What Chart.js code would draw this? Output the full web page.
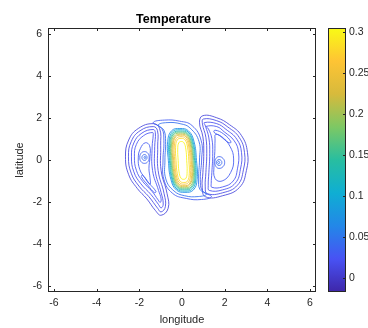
<!DOCTYPE html>
<html>
<head>
<meta charset="utf-8">
<script src="https://cdn.jsdelivr.net/npm/chart.js@4.4.1/dist/chart.umd.min.js"></script>
<style>
html, body { margin: 0; padding: 0; background: #fff; }
#wrap { position: relative; width: 368px; height: 328px; overflow: hidden; }
#mainChart { position: absolute; left: 0; top: 0; }
#cbarChart { position: absolute; left: 320px; top: 0; }
</style>
</head>
<body>
<div id="wrap">
  <canvas id="mainChart" width="368" height="328"></canvas>
  <canvas id="cbarChart" width="48" height="328"></canvas>
</div>
<script>
// axes
const xTicks = [-6, -4, -2, 0, 2, 4, 6];
const yTicks = [-6, -4, -2, 0, 2, 4, 6];
const cbarTicks = [0, 0.05, 0.1, 0.15, 0.2, 0.25, 0.3];
const cRange = [-0.017, 0.305];

// central vortex band (levels and contour lines, lon/lat)
const centralLevels = [0.30, 0.28, 0.26, 0.24, 0.22, 0.19, 0.16, 0.13, 0.10, 0.07];
const centralLines = [
  [[-0.03,0.88],[0.09,0.82],[0.18,0.52],[0.22,-0.02],[0.24,-0.56],[0.19,-0.86],[0.07,-0.92],[-0.05,-0.86],[-0.14,-0.56],[-0.18,-0.02],[-0.20,0.52],[-0.15,0.82]],
  [[-0.04,1.03],[0.14,0.96],[0.26,0.61],[0.32,-0.02],[0.34,-0.65],[0.26,-1.00],[0.08,-1.07],[-0.10,-1.00],[-0.22,-0.65],[-0.28,-0.02],[-0.30,0.61],[-0.22,0.96]],
  [[-0.05,1.11],[0.17,1.03],[0.31,0.66],[0.38,-0.02],[0.40,-0.70],[0.30,-1.07],[0.09,-1.15],[-0.13,-1.07],[-0.27,-0.70],[-0.34,-0.02],[-0.36,0.66],[-0.26,1.03]],
  [[-0.06,1.18],[0.19,1.10],[0.35,0.70],[0.43,-0.02],[0.45,-0.74],[0.34,-1.14],[0.10,-1.22],[-0.15,-1.14],[-0.31,-0.74],[-0.39,-0.02],[-0.41,0.70],[-0.30,1.10]],
  [[-0.06,1.23],[0.22,1.14],[0.39,0.73],[0.47,-0.02],[0.49,-0.77],[0.36,-1.18],[0.10,-1.27],[-0.18,-1.18],[-0.35,-0.77],[-0.43,-0.02],[-0.45,0.73],[-0.32,1.14]],
  [[-0.07,1.28],[0.23,1.19],[0.42,0.76],[0.51,-0.02],[0.53,-0.80],[0.40,-1.23],[0.11,-1.32],[-0.19,-1.23],[-0.38,-0.80],[-0.47,-0.02],[-0.49,0.76],[-0.36,1.19]],
  [[-0.08,1.33],[0.25,1.24],[0.45,0.79],[0.55,-0.02],[0.57,-0.83],[0.43,-1.28],[0.12,-1.37],[-0.21,-1.28],[-0.41,-0.83],[-0.51,-0.02],[-0.53,0.79],[-0.39,1.24]],
  [[-0.08,1.38],[0.27,1.28],[0.49,0.82],[0.59,-0.02],[0.61,-0.86],[0.46,-1.32],[0.12,-1.42],[-0.23,-1.32],[-0.45,-0.86],[-0.55,-0.02],[-0.57,0.82],[-0.42,1.28]],
  [[-0.09,1.44],[0.28,1.34],[0.52,0.86],[0.63,-0.02],[0.65,-0.90],[0.49,-1.38],[0.13,-1.48],[-0.24,-1.38],[-0.48,-0.90],[-0.59,-0.02],[-0.61,0.86],[-0.45,1.34]],
  [[-0.10,1.50],[0.30,1.39],[0.56,0.89],[0.68,-0.02],[0.71,-0.93],[0.53,-1.43],[0.14,-1.54],[-0.26,-1.43],[-0.52,-0.93],[-0.64,-0.02],[-0.67,0.89],[-0.49,1.39]]
];

// S-shaped outer band lines
const bandLevels = [0.045, 0.03];
const bandLines = [
  [[0.38,1.52],[0.80,0.87],[0.82,0.00],[0.78,-0.90],[0.84,-1.40],[1.15,-1.62],[0.76,-1.74],[0.12,-1.70],[-0.38,-1.47],[-0.76,-0.90],[-0.80,0.00],[-0.77,0.87],[-0.85,1.42],[-1.12,1.66],[-0.70,1.78],[-0.05,1.72]],
  [[0.47,1.64],[0.90,0.92],[0.92,0.00],[0.86,-0.92],[0.96,-1.47],[1.38,-1.74],[0.92,-1.88],[0.20,-1.83],[-0.45,-1.58],[-0.85,-0.92],[-0.89,0.00],[-0.85,0.92],[-0.95,1.50],[-1.35,1.78],[-0.82,1.90],[-0.12,1.85]]
];

// western eddy
const westLevels = [0.01, 0.015, 0.02, 0.025, 0.03, 0.03, 0.035, 0.04, 0.045];
const westLines = [
  [[-1.35,1.73],[-2.05,1.50],[-2.50,0.95],[-2.65,0.15],[-2.50,-0.70],[-2.10,-1.35],[-1.65,-1.85],[-1.25,-2.40],[-0.98,-2.63],[-0.65,-2.30],[-0.70,-1.60],[-0.98,-0.50],[-1.00,0.70],[-1.05,1.50]],
  [[-1.35,1.59],[-1.97,1.39],[-2.38,0.88],[-2.51,0.15],[-2.38,-0.63],[-2.02,-1.24],[-1.55,-1.75],[-1.14,-2.30],[-0.98,-2.47],[-0.78,-2.22],[-0.84,-1.60],[-1.12,-0.50],[-1.14,0.67],[-1.15,1.40]],
  [[-1.35,1.45],[-1.88,1.28],[-2.26,0.81],[-2.37,0.15],[-2.26,-0.56],[-1.93,-1.13],[-1.45,-1.65],[-1.10,-2.12],[-0.98,-2.28],[-0.88,-2.10],[-0.98,-1.55],[-1.26,-0.50],[-1.28,0.64],[-1.25,1.30]],
  [[-1.38,1.31],[-1.80,1.16],[-2.14,0.74],[-2.23,0.15],[-2.14,-0.49],[-1.85,-1.01],[-1.40,-1.50],[-1.12,-1.90],[-1.02,-2.02],[-0.98,-1.85],[-1.10,-1.45],[-1.38,-0.50],[-1.40,0.62],[-1.35,1.20]],
  [[-1.50,-1.15],[-1.74,-0.85],[-1.98,-0.45],[-2.05,0.10],[-1.95,0.55],[-1.72,0.82],[-1.52,0.68],[-1.50,0.16],[-1.55,-0.40],[-1.50,-0.85]],
  [[-1.90,-0.80],[-1.60,-1.20],[-1.30,-1.55],[-1.22,-1.50],[-1.55,-1.10],[-1.85,-0.72]],
  [[-1.76,0.40],[-1.60,0.32],[-1.54,0.12],[-1.60,-0.08],[-1.76,-0.16],[-1.92,-0.08],[-1.98,0.12],[-1.92,0.32]],
  [[-1.76,0.26],[-1.68,0.22],[-1.64,0.12],[-1.68,0.02],[-1.76,-0.02],[-1.84,0.02],[-1.88,0.12],[-1.84,0.22]],
  [[-1.74,0.18],[-1.70,0.12],[-1.74,0.06],[-1.78,0.12]]
];

// eastern eddy
const eastLevels = [0.01, 0.015, 0.02, 0.025, 0.03, 0.03, 0.035, 0.04, 0.045];
const eastLines = [
  [[0.98,2.11],[1.63,2.01],[2.23,1.68],[2.79,1.16],[3.07,0.36],[3.02,-0.50],[2.70,-1.30],[1.91,-1.70],[1.10,-1.75],[0.95,-1.30],[0.98,-0.60],[1.02,0.30],[0.98,1.10],[0.82,1.80]],
  [[1.00,1.95],[1.63,1.87],[2.15,1.57],[2.68,1.08],[2.93,0.36],[2.88,-0.47],[2.60,-1.20],[1.91,-1.56],[1.18,-1.60],[1.09,-1.28],[1.12,-0.60],[1.16,0.30],[1.12,1.08],[0.96,1.72]],
  [[1.05,1.78],[1.63,1.73],[2.06,1.46],[2.57,0.99],[2.79,0.36],[2.74,-0.44],[2.50,-1.10],[1.91,-1.42],[1.28,-1.45],[1.23,-1.22],[1.26,-0.60],[1.30,0.30],[1.26,1.05],[1.10,1.62]],
  [[1.14,1.60],[1.63,1.59],[1.98,1.34],[2.45,0.91],[2.65,0.36],[2.60,-0.42],[2.40,-1.00],[1.91,-1.28],[1.40,-1.30],[1.37,-1.12],[1.40,-0.60],[1.44,0.30],[1.40,1.02],[1.24,1.48]],
  [[1.58,1.22],[1.90,1.05],[2.25,0.65],[2.42,0.05],[2.28,-0.60],[1.88,-1.00],[1.55,-0.88],[1.50,-0.25],[1.54,0.40],[1.55,0.95]],
  [[1.55,1.42],[1.95,1.24],[2.30,0.86],[2.20,0.82],[1.85,1.12],[1.50,1.32]],
  [[1.74,0.16],[1.92,0.08],[2.00,-0.12],[1.92,-0.32],[1.74,-0.40],[1.60,-0.32],[1.54,-0.12],[1.60,0.08]],
  [[1.74,0.02],[1.83,-0.02],[1.87,-0.12],[1.83,-0.22],[1.74,-0.26],[1.65,-0.22],[1.61,-0.12],[1.65,-0.02]],
  [[1.72,-0.06],[1.77,-0.12],[1.72,-0.18],[1.67,-0.12]]
];

const FONT = "'Liberation Sans', Arial, Helvetica, sans-serif";
const AXIS_COLOR = '#262626';

// parula-like colormap
const parulaStops = [
  [0, 62, 38, 168], [0.125, 72, 82, 244], [0.25, 35, 135, 232], [0.375, 15, 174, 211],
  [0.5, 40, 190, 160], [0.625, 125, 200, 100], [0.75, 215, 186, 60], [0.875, 254, 196, 52], [1, 249, 251, 21]
];
function parula(t) {
  t = Math.max(0, Math.min(1, t));
  for (let i = 1; i < parulaStops.length; i++) {
    const a = parulaStops[i - 1], b = parulaStops[i];
    if (t <= b[0]) {
      const f = (t - a[0]) / (b[0] - a[0]);
      const c = [1, 2, 3].map(k => Math.round(a[k] + (b[k] - a[k]) * f));
      return 'rgb(' + c.join(',') + ')';
    }
  }
  return 'rgb(249,251,21)';
}
function levelColor(v) {
  return parula((v - cRange[0]) / (cRange[1] - cRange[0]));
}

// contours are closed loops
const closedLoops = {
  id: 'closedLoops',
  afterDatasetUpdate(chart, args) {
    const line = args.meta.dataset;
    if (line) { line._loop = true; line._fullLoop = true; }
  }
};

// matlab style box with inward ticks, title over the axes
const boxTicks = {
  id: 'boxTicks',
  afterDraw(chart) {
    const { ctx, chartArea: a, scales } = chart;
    ctx.save();
    ctx.strokeStyle = AXIS_COLOR;
    ctx.lineWidth = 1;
    ctx.strokeRect(a.left + 0.5, a.top + 0.5, a.right - a.left - 1, a.bottom - a.top - 1);
    ctx.beginPath();
    xTicks.forEach(v => {
      const px = Math.round(scales.x.getPixelForValue(v)) + 0.5;
      ctx.moveTo(px, a.bottom); ctx.lineTo(px, a.bottom - 3);
      ctx.moveTo(px, a.top); ctx.lineTo(px, a.top + 3);
    });
    yTicks.forEach(v => {
      const py = Math.round(scales.y.getPixelForValue(v)) + 0.5;
      ctx.moveTo(a.left, py); ctx.lineTo(a.left + 3, py);
      ctx.moveTo(a.right, py); ctx.lineTo(a.right - 3, py);
    });
    ctx.stroke();
    ctx.fillStyle = '#000';
    ctx.font = 'bold 12.5px ' + FONT;
    ctx.textAlign = 'center';
    ctx.textBaseline = 'alphabetic';
    ctx.fillText('Temperature', 173.5, 23);
    ctx.restore();
  }
};

const allLines = [...centralLines, ...bandLines, ...westLines, ...eastLines];
const allLevels = [...centralLevels, ...bandLevels, ...westLevels, ...eastLevels];

new Chart(document.getElementById('mainChart'), {
  type: 'scatter',
  data: {
    datasets: allLines.map((pts, i) => ({
      data: pts.map(p => ({ x: p[0], y: p[1] })),
      showLine: true,
      borderColor: levelColor(allLevels[i]),
      borderWidth: 0.85,
      pointRadius: 0,
      tension: 0.45,
      fill: false
    }))
  },
  options: {
    responsive: false,
    animation: false,
    events: [],
    layout: { padding: { left: 0, right: 52, top: 28, bottom: 0 } },
    plugins: {
      legend: { display: false },
      tooltip: { enabled: false },
      title: { display: false }
    },
    scales: {
      x: {
        type: 'linear',
        min: -2 * Math.PI,
        max: 2 * Math.PI,
        afterBuildTicks: s => { s.ticks = xTicks.map(v => ({ value: v })); },
        afterFit: s => { s.height = 36; },
        grid: { display: false, drawTicks: false },
        border: { display: false },
        ticks: { color: AXIS_COLOR, font: { family: FONT, size: 10.5 }, padding: 5, maxRotation: 0, autoSkip: false, callback: v => String(v) },
        title: { display: true, text: 'longitude', color: AXIS_COLOR, font: { family: FONT, size: 11 }, padding: { top: 0, bottom: 1 } }
      },
      y: {
        type: 'linear',
        min: -2 * Math.PI,
        max: 2 * Math.PI,
        afterBuildTicks: s => { s.ticks = yTicks.map(v => ({ value: v })); },
        afterFit: s => { s.width = 48; },
        grid: { display: false, drawTicks: false },
        border: { display: false },
        ticks: { color: AXIS_COLOR, font: { family: FONT, size: 10.5 }, padding: 6, autoSkip: false, callback: v => String(v) },
        title: { display: true, text: 'latitude', color: AXIS_COLOR, font: { family: FONT, size: 11 }, padding: { top: 13, bottom: 0 } }
      }
    }
  },
  plugins: [closedLoops, boxTicks]
});

// colorbar
const cbarFrame = {
  id: 'cbarFrame',
  afterDraw(chart) {
    const { ctx, chartArea: a, scales } = chart;
    ctx.save();
    ctx.strokeStyle = AXIS_COLOR;
    ctx.lineWidth = 1;
    ctx.strokeRect(a.left + 0.5, a.top + 0.5, a.right - a.left - 1, a.bottom - a.top - 1);
    ctx.beginPath();
    cbarTicks.forEach(v => {
      const py = Math.round(scales.y.getPixelForValue(v)) + 0.5;
      ctx.moveTo(a.right, py); ctx.lineTo(a.right - 3, py);
    });
    ctx.stroke();
    ctx.restore();
  }
};

new Chart(document.getElementById('cbarChart'), {
  type: 'bar',
  data: {
    labels: [''],
    datasets: [{
      data: [cRange],
      barPercentage: 1,
      categoryPercentage: 1,
      borderWidth: 0,
      backgroundColor: ctx => {
        const area = ctx.chart.chartArea;
        if (!area) return '#3e26a8';
        const g = ctx.chart.ctx.createLinearGradient(0, area.bottom, 0, area.top);
        parulaStops.forEach(s => g.addColorStop(s[0], 'rgb(' + s[1] + ',' + s[2] + ',' + s[3] + ')'));
        return g;
      }
    }]
  },
  options: {
    responsive: false,
    animation: false,
    events: [],
    layout: { padding: { left: 8, right: 0, top: 28, bottom: 36 } },
    plugins: { legend: { display: false }, tooltip: { enabled: false } },
    scales: {
      x: { display: false },
      y: {
        position: 'right',
        min: cRange[0],
        max: cRange[1],
        afterBuildTicks: s => { s.ticks = cbarTicks.map(v => ({ value: v })); },
        afterFit: s => { s.width = 22; },
        grid: { display: false, drawTicks: false },
        border: { display: false },
        ticks: { color: AXIS_COLOR, font: { family: FONT, size: 10.5 }, padding: 3, autoSkip: false, callback: v => String(v) }
      }
    }
  },
  plugins: [cbarFrame]
});
</script>
</body>
</html>
